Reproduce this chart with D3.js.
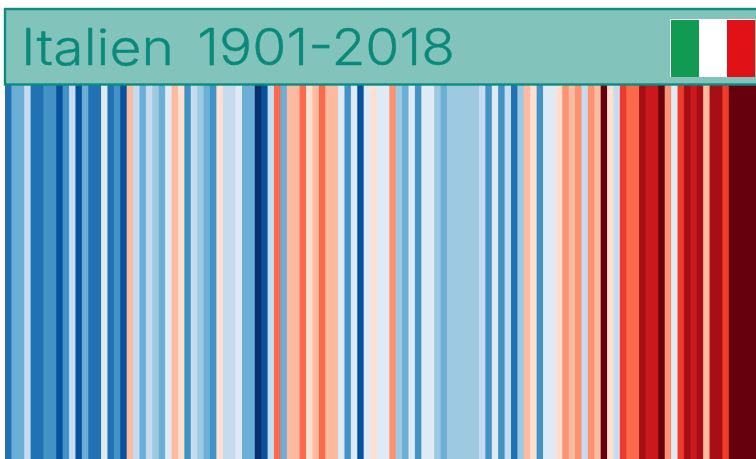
<!DOCTYPE html>
<meta charset="utf-8">
<style>

body {
  margin: 0;
  background: #fff;
}

svg {
  display: block;
}

.title {
  font: 300 50px Inter, sans-serif;
  fill: #0b8a7b;
  word-spacing: 7px;
  stroke: #0b8a7b;
  stroke-width: 0.3px;
}

</style>
<body>
<script src="https://d3js.org/d3.v7.min.js"></script>
<script>

var firstYear = 1901,
    titleText = "Italien 1901-2018";

// colour class of each year (0 coldest, 15 warmest)
var levels = [
  2, 4, 4, 6, 2, 2, 3, 3, 1, 3,
  6, 1, 4, 2, 2, 7, 2, 3, 1, 9,
  6, 4, 6, 5, 4, 7, 9, 8, 3, 6,
  5, 4, 3, 8, 6, 6, 7, 4, 4, 0,
  1, 6, 11, 4, 9, 9, 11, 8, 9, 11,
  9, 9, 7, 3, 7, 1, 7, 8, 7, 7,
  10, 5, 4, 7, 3, 7, 7, 5, 4, 5,
  5, 5, 5, 5, 6, 3, 7, 3, 6, 2,
  5, 9, 8, 3, 7, 7, 8, 10, 9, 10,
  6, 10, 9, 15, 8, 6, 12, 11, 11, 14,
  13, 13, 15, 10, 7, 12, 14, 13, 14, 9,
  14, 14, 12, 15, 15, 15, 15, 15
];

var palette = [
  "#08306b", "#08519c", "#2171b5", "#4292c6",
  "#6baed6", "#9ecae1", "#c6dbef", "#deebf7",
  "#fee0d2", "#fcbba1", "#fc9272", "#fb6a4a",
  "#ef3b2c", "#cb181d", "#a50f15", "#67000d"
];

var flagColors = ["#109a52", "#ffffff", "#e01218"];

var w = 756,
    h = 459;

var years = levels.map(function(d, i) { return firstYear + i; });

var svg = d3.select("body").append("svg")
    .attr("width", w)
    .attr("height", h);

// the last stripes run off the right edge of the picture
var x = d3.scaleBand().domain(years).range([5, 760.8]);
var color = d3.scaleOrdinal().domain(d3.range(palette.length)).range(palette);

// each stripe runs 1px under the next one so no seams show
svg.selectAll("rect.stripe")
    .data(years)
  .enter().append("rect")
    .attr("class", "stripe")
    .attr("x", function(d) { return x(d); })
    .attr("y", 85)
    .attr("width", x.bandwidth() + 1)
    .attr("height", h - 85)
    .attr("fill", function(d, i) { return color(levels[i]); });

// header box
svg.append("rect")
    .attr("x", 5)
    .attr("y", 9)
    .attr("width", w)
    .attr("height", 75.5)
    .attr("fill", "#82c4bb")
    .attr("stroke", "#0e8c7c")
    .attr("stroke-width", 2.4);

svg.append("text")
    .attr("class", "title")
    .attr("x", 21)
    .attr("y", 65)
    .attr("textLength", 434)
    .attr("lengthAdjust", "spacingAndGlyphs")
    .text(titleText);

// flag
svg.append("rect")
    .attr("x", 670)
    .attr("y", 19)
    .attr("width", 85)
    .attr("height", 58)
    .attr("fill", "#fff");

var flagX = d3.scaleBand().domain(flagColors).range([671, 755]);

svg.selectAll("rect.flag")
    .data(flagColors)
  .enter().append("rect")
    .attr("class", "flag")
    .attr("x", function(d) { return flagX(d); })
    .attr("y", 20)
    .attr("width", flagX.bandwidth())
    .attr("height", 57)
    .attr("fill", function(d) { return d; });

</script>
